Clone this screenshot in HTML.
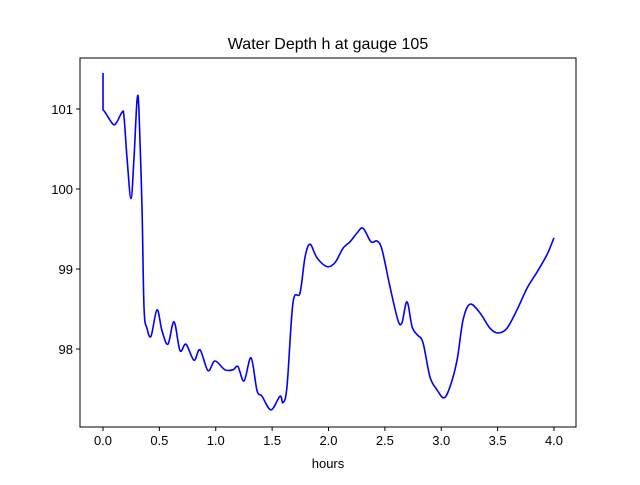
<!DOCTYPE html>
<html><head><meta charset="utf-8"><style>
body{margin:0;background:#fff;font-family:"Liberation Sans","DejaVu Sans",sans-serif;}
</style></head><body>
<svg id="chart" width="640" height="480" xmlns="http://www.w3.org/2000/svg"></svg>
<script>
const times=[0.0,0.0,0.018,0.089,0.124,0.169,0.186,0.213,0.248,0.275,0.302,0.319,0.346,0.364,0.390,0.426,0.479,0.523,0.576,0.630,0.683,0.736,0.807,0.860,0.931,0.993,1.082,1.153,1.197,1.251,1.313,1.366,1.410,1.490,1.570,1.596,1.632,1.685,1.747,1.792,1.836,1.898,1.987,2.058,2.129,2.191,2.253,2.306,2.377,2.430,2.475,2.545,2.616,2.652,2.696,2.741,2.785,2.838,2.900,2.962,3.024,3.078,3.140,3.193,3.255,3.344,3.432,3.503,3.583,3.672,3.761,3.849,3.938,4.0];
const depths=[101.45,100.99,100.96,100.81,100.84,100.96,100.91,100.39,99.88,100.39,101.11,100.98,99.76,98.51,98.26,98.16,98.49,98.23,98.06,98.34,97.98,98.06,97.86,97.99,97.73,97.85,97.74,97.74,97.78,97.60,97.89,97.48,97.41,97.24,97.41,97.33,97.53,98.58,98.70,99.15,99.31,99.14,99.03,99.08,99.26,99.34,99.45,99.51,99.34,99.35,99.24,98.78,98.36,98.33,98.59,98.28,98.18,98.08,97.65,97.49,97.39,97.53,97.86,98.36,98.56,98.45,98.26,98.20,98.26,98.49,98.76,98.96,99.18,99.39];
const xTicks=[0.0,0.5,1.0,1.5,2.0,2.5,3.0,3.5,4.0];
const yTicks=[98,99,100,101];
const NS="http://www.w3.org/2000/svg";
const svg=document.getElementById('chart');
const L=80,R=576,T=58,B=427;
const xs=t=>103+t*112.75;
const ys=h=>109+(101-h)*80;
function mk(tag,attrs,parent){const e=document.createElementNS(NS,tag);for(const k in attrs)e.setAttribute(k,attrs[k]);(parent||svg).appendChild(e);return e;}
const title=mk('text',{x:328,y:49,'text-anchor':'middle','font-size':'16'});
title.textContent='Water Depth h at gauge 105';


// line
const P=times.map((t,i)=>[xs(t),ys(depths[i])]);
let d='M'+P[0][0]+','+P[0][1]+' L'+P[1][0]+','+P[1][1];
for(let i=1;i<P.length-1;i++){
 const p0=P[Math.max(i-1,1)],p1=P[i],p2=P[i+1],p3=P[Math.min(i+2,P.length-1)];
 const c1=[p1[0]+(p2[0]-p0[0])/6,p1[1]+(p2[1]-p0[1])/6];
 const c2=[p2[0]-(p3[0]-p1[0])/6,p2[1]-(p3[1]-p1[1])/6];
 d+=' C'+c1[0]+','+c1[1]+' '+c2[0]+','+c2[1]+' '+p2[0]+','+p2[1];
}
const line=mk('path',{d:d,fill:'none',stroke:'#0000ff','stroke-width':'1.6','stroke-linejoin':'round'});


const frame=mk('rect',{x:L,y:T,width:R-L,height:B-T,fill:'none',stroke:'#000','stroke-width':'1'});


xTicks.forEach(v=>{
 const x=xs(v);
 const tk=mk('line',{x1:x,x2:x,y1:B,y2:B+4,stroke:'#000'});
 
 
 const lb=mk('text',{x:x,y:B+18,'text-anchor':'middle','font-size':'13'});
 lb.textContent=v.toFixed(1);
 
 
});
yTicks.forEach(v=>{
 const y=ys(v);
 const tk=mk('line',{x1:L-4,x2:L,y1:y,y2:y,stroke:'#000'});
 
 
 const lb=mk('text',{x:L-7,y:y+5,'text-anchor':'end','font-size':'13'});
 lb.textContent=String(v);
 
 
});
const xt=mk('text',{x:328,y:468,'text-anchor':'middle','font-size':'13'});
xt.textContent='hours';


</script>
</body></html>
